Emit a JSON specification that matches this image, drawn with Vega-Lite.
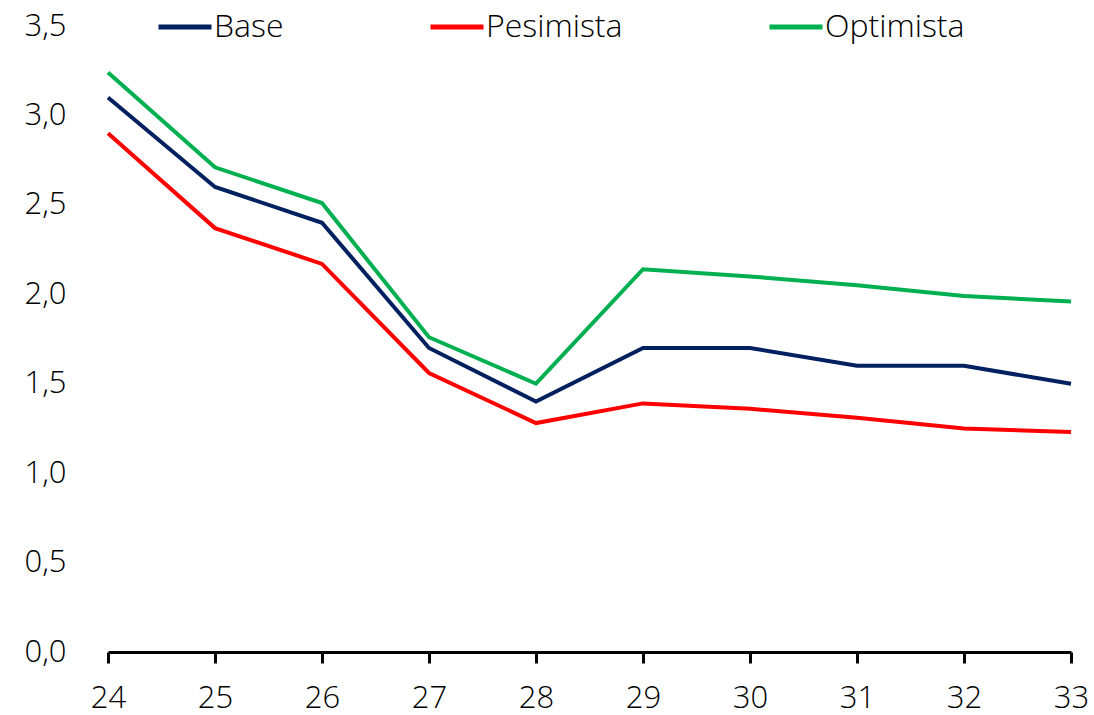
{
  "$schema": "https://vega.github.io/schema/vega-lite/v6.json",
  "width": 963,
  "height": 626,
  "autosize": {"type": "none"},
  "padding": {"left": 108, "top": 26, "right": 23, "bottom": 63},
  "background": "white",
  "config": {
    "view": {"stroke": null},
    "font": "Open Sans",
    "axis": {"labelFont": "Open Sans", "labelFontWeight": 300, "labelColor": "#000", "labelFontSize": 31, "grid": false, "title": null},
    "legend": {"labelFont": "Open Sans", "labelFontWeight": 300, "labelColor": "#000", "labelFontSize": 32}
  },
  "data": {
    "values": [
      {"x": 24, "s": "Base", "v": 3.1}, {"x": 25, "s": "Base", "v": 2.6}, {"x": 26, "s": "Base", "v": 2.4}, {"x": 27, "s": "Base", "v": 1.7}, {"x": 28, "s": "Base", "v": 1.4},
      {"x": 29, "s": "Base", "v": 1.7}, {"x": 30, "s": "Base", "v": 1.7}, {"x": 31, "s": "Base", "v": 1.6}, {"x": 32, "s": "Base", "v": 1.6}, {"x": 33, "s": "Base", "v": 1.5},
      {"x": 24, "s": "Pesimista", "v": 2.9}, {"x": 25, "s": "Pesimista", "v": 2.37}, {"x": 26, "s": "Pesimista", "v": 2.17}, {"x": 27, "s": "Pesimista", "v": 1.56}, {"x": 28, "s": "Pesimista", "v": 1.28},
      {"x": 29, "s": "Pesimista", "v": 1.39}, {"x": 30, "s": "Pesimista", "v": 1.36}, {"x": 31, "s": "Pesimista", "v": 1.31}, {"x": 32, "s": "Pesimista", "v": 1.25}, {"x": 33, "s": "Pesimista", "v": 1.23},
      {"x": 24, "s": "Optimista", "v": 3.24}, {"x": 25, "s": "Optimista", "v": 2.71}, {"x": 26, "s": "Optimista", "v": 2.51}, {"x": 27, "s": "Optimista", "v": 1.76}, {"x": 28, "s": "Optimista", "v": 1.5},
      {"x": 29, "s": "Optimista", "v": 2.14}, {"x": 30, "s": "Optimista", "v": 2.1}, {"x": 31, "s": "Optimista", "v": 2.05}, {"x": 32, "s": "Optimista", "v": 1.99}, {"x": 33, "s": "Optimista", "v": 1.96}
    ]
  },
  "mark": {"type": "line", "strokeWidth": 4, "strokeCap": "butt", "strokeJoin": "miter"},
  "encoding": {
    "x": {
      "field": "x", "type": "quantitative",
      "scale": {"domain": [24, 33], "nice": false, "zero": false},
      "axis": {"values": [24, 25, 26, 27, 28, 29, 30, 31, 32, 33], "domainColor": "#000", "domainWidth": 3, "tickColor": "#000", "tickWidth": 3, "tickSize": 11, "labelPadding": 20, "labelFlush": false}
    },
    "y": {
      "field": "v", "type": "quantitative",
      "scale": {"domain": [0, 3.5], "nice": false},
      "axis": {"values": [0, 0.5, 1, 1.5, 2, 2.5, 3, 3.5], "format": ".1f", "formatType": "number", "labelExpr": "replace(datum.label, '.', ',')", "domain": false, "ticks": false, "labelPadding": 42}
    },
    "color": {
      "field": "s", "type": "nominal",
      "scale": {"domain": ["Base", "Pesimista", "Optimista"], "range": ["#002060", "#FF0000", "#00B050"]},
      "legend": {"title": null, "orient": "none", "direction": "horizontal", "legendX": 48, "legendY": -28, "symbolType": "stroke", "symbolSize": 2809, "symbolStrokeWidth": 5, "labelOffset": 0, "columnPadding": 136}
    }
  }
}
